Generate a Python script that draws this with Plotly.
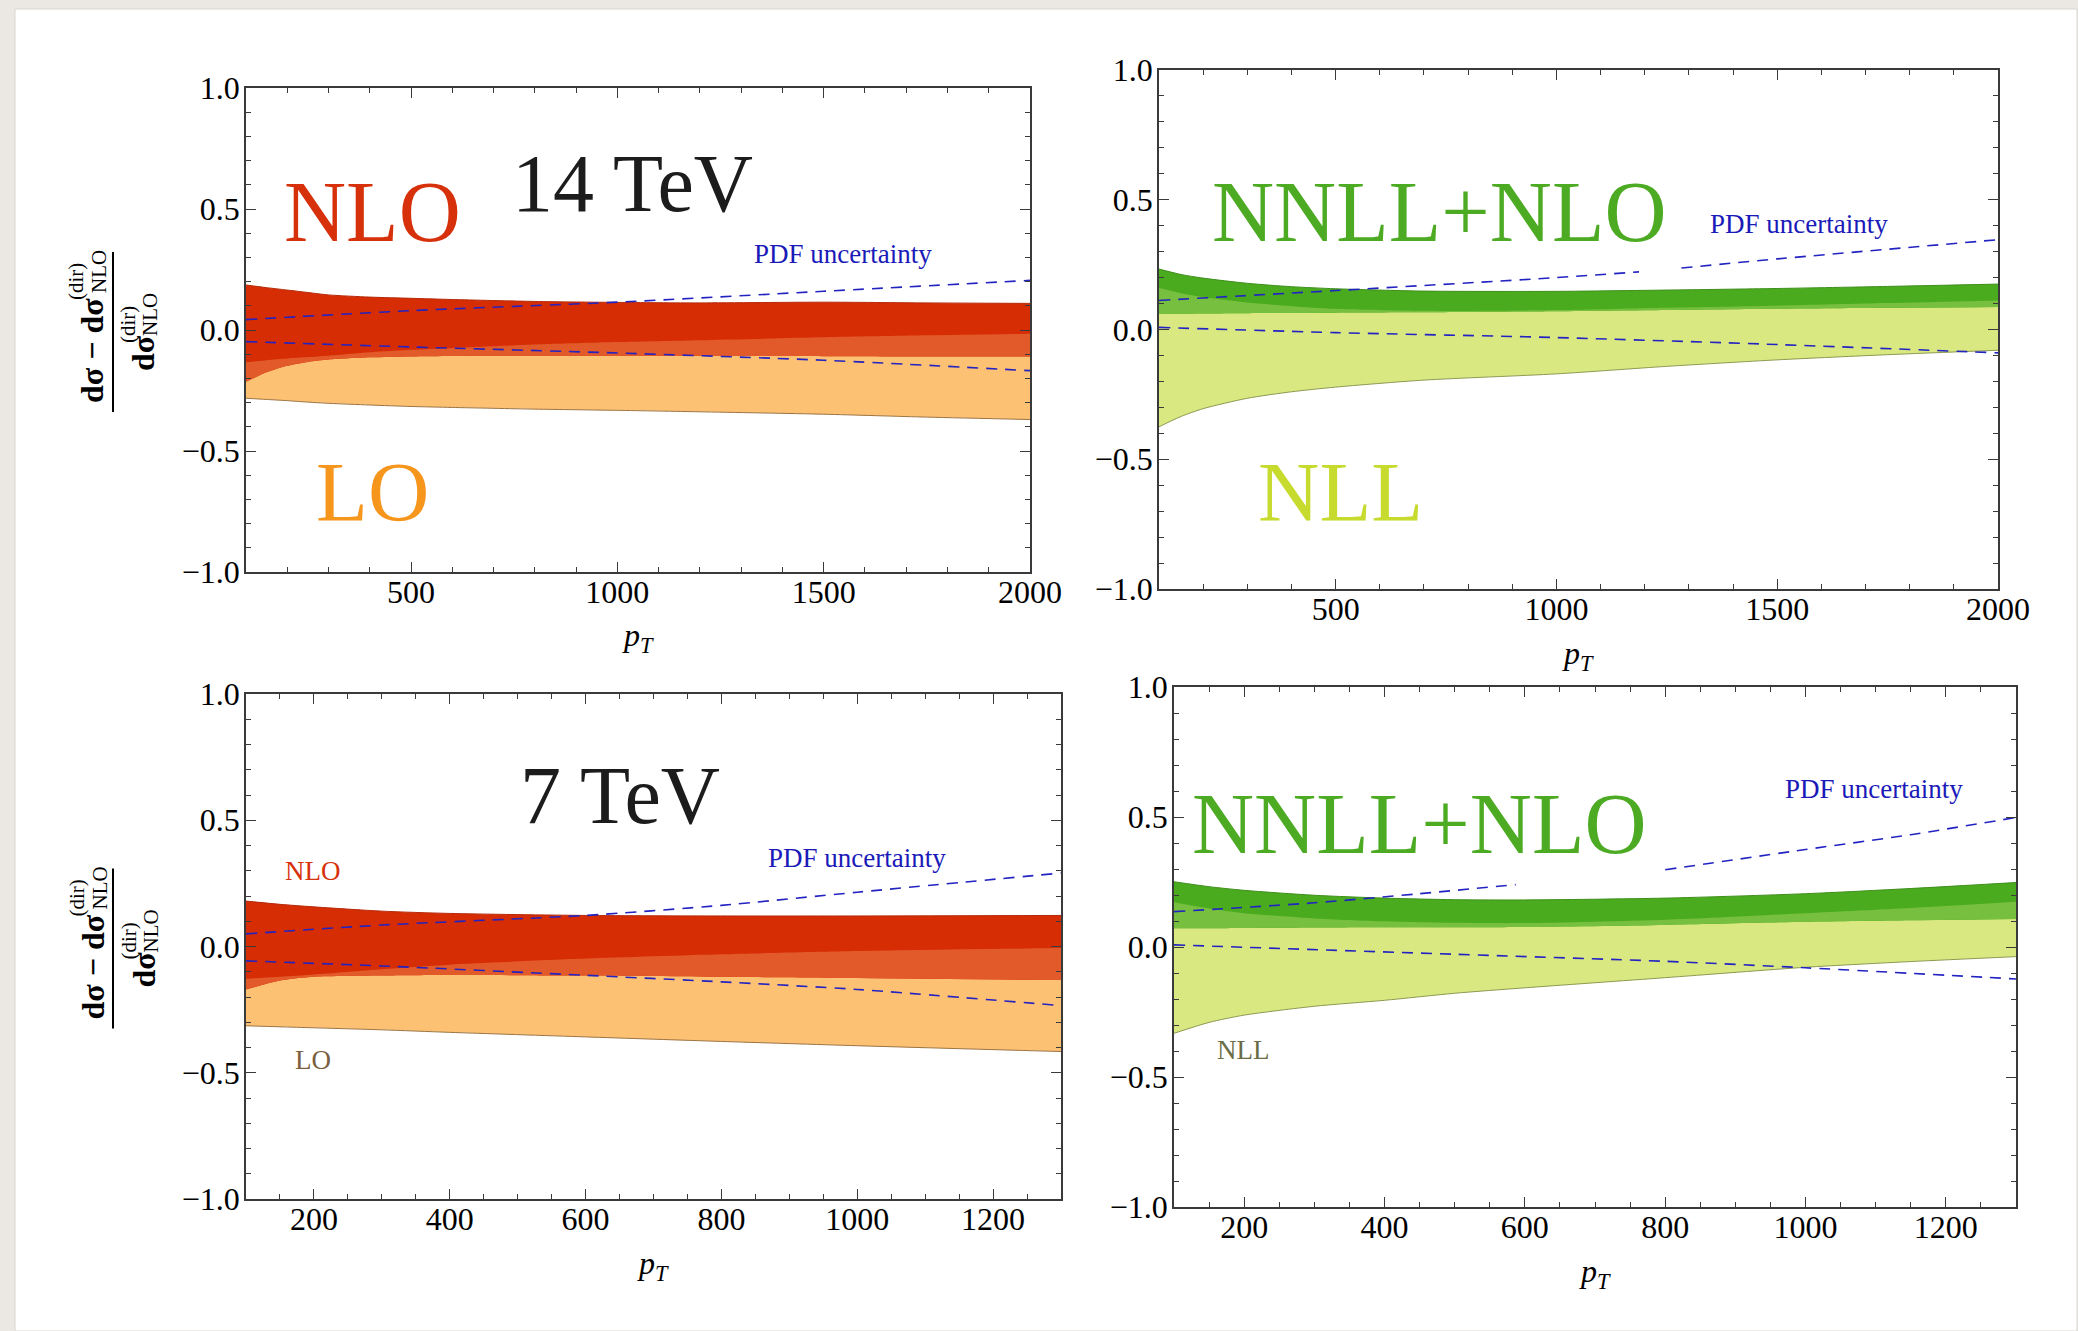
import numpy as np
import plotly.graph_objects as go

W, H = 2078, 1331
SERIF = "Liberation Serif"

# ---------------- 14 TeV : fixed-order scale bands ----------------
pt14_fo = [100, 150, 200, 250, 300, 400, 500, 600, 800, 1000, 1200, 1500, 1750, 2000]
nlo14_hi = [0.186, 0.175, 0.165, 0.155, 0.145, 0.136, 0.131, 0.126, 0.118, 0.114, 0.112, 0.115, 0.112, 0.110]
nlo14_lo = [-0.214, -0.175, -0.148, -0.132, -0.122, -0.113, -0.109, -0.107, -0.106, -0.106, -0.107, -0.108, -0.109, -0.110]
lo14_hi = [-0.133, -0.125, -0.118, -0.112, -0.106, -0.092, -0.082, -0.074, -0.060, -0.050, -0.042, -0.030, -0.022, -0.016]
lo14_lo = [-0.282, -0.287, -0.292, -0.298, -0.303, -0.310, -0.316, -0.320, -0.327, -0.332, -0.338, -0.348, -0.360, -0.370]

pt14_pdf_fo = [100, 500, 1000, 1500, 2000]
pdf14_fo_hi = [0.043, 0.080, 0.115, 0.160, 0.205]
pdf14_fo_lo = [-0.048, -0.070, -0.095, -0.125, -0.168]

# ---------------- 14 TeV : resummed scale bands ----------------
pt14_rs = [100, 150, 200, 300, 400, 500, 700, 1000, 1250, 1500, 1750, 2000]
nnll14_hi = [0.233, 0.212, 0.198, 0.178, 0.165, 0.157, 0.148, 0.147, 0.152, 0.158, 0.166, 0.175]
nnll14_lo = [0.060, 0.061, 0.062, 0.063, 0.064, 0.065, 0.066, 0.070, 0.075, 0.080, 0.084, 0.087]
nll14_hi = [0.160, 0.140, 0.125, 0.104, 0.090, 0.080, 0.072, 0.075, 0.084, 0.092, 0.102, 0.112]
nll14_lo = [-0.375, -0.335, -0.305, -0.265, -0.240, -0.222, -0.195, -0.171, -0.142, -0.117, -0.097, -0.080]

pt14_pdf_rs_hi = [100, 500, 1000, 1187, None, 1283, 1500, 2000]
pdf14_rs_hi = [0.112, 0.150, 0.200, 0.222, None, 0.237, 0.272, 0.346]
pt14_pdf_rs_lo = [100, 500, 1000, 1500, 2000]
pdf14_rs_lo = [0.008, -0.012, -0.031, -0.058, -0.090]

# ---------------- 7 TeV : fixed-order scale bands ----------------
pt7_fo = [100, 150, 200, 300, 400, 600, 800, 1000, 1300]
nlo7_hi = [0.180, 0.167, 0.157, 0.140, 0.131, 0.123, 0.121, 0.121, 0.123]
nlo7_lo = [-0.170, -0.135, -0.120, -0.115, -0.113, -0.115, -0.120, -0.125, -0.133]
lo7_hi = [-0.128, -0.120, -0.111, -0.090, -0.072, -0.048, -0.031, -0.018, -0.006]
lo7_lo = [-0.314, -0.318, -0.322, -0.330, -0.340, -0.358, -0.376, -0.393, -0.416]

pt7_pdf_fo = [100, 300, 600, 800, 1000, 1300]
pdf7_fo_hi = [0.050, 0.085, 0.123, 0.163, 0.215, 0.291]
pdf7_fo_lo = [-0.057, -0.077, -0.114, -0.140, -0.170, -0.234]

# ---------------- 7 TeV : resummed scale bands ----------------
pt7_rs = [100, 150, 200, 300, 400, 500, 600, 800, 1000, 1150, 1300]
nnll7_hi = [0.251, 0.232, 0.218, 0.199, 0.188, 0.182, 0.181, 0.188, 0.205, 0.225, 0.248]
nnll7_lo = [0.072, 0.072, 0.073, 0.075, 0.076, 0.076, 0.077, 0.085, 0.097, 0.103, 0.108]
nll7_hi = [0.172, 0.148, 0.130, 0.110, 0.099, 0.093, 0.092, 0.105, 0.130, 0.150, 0.174]
nll7_lo = [-0.332, -0.290, -0.262, -0.228, -0.205, -0.178, -0.157, -0.118, -0.078, -0.056, -0.037]

pt7_pdf_rs_hi = [100, 300, 450, 587, None, 800, 1000, 1150, 1300]
pdf7_rs_hi = [0.136, 0.170, 0.205, 0.240, None, 0.297, 0.375, 0.432, 0.498]
pt7_pdf_rs_lo = [100, 500, 800, 1000, 1300]
pdf7_rs_lo = [0.008, -0.028, -0.055, -0.080, -0.123]

# ---------------- colours ----------------
NLO_ONLY = "#d62d04"
FO_OVERLAP = "#e2592a"
LO_ONLY = "#fdc173"
NNLL_ONLY = "#4aab1f"
RS_OVERLAP = "#77bf3e"
NLL_ONLY = "#dae882"
PDF_BLUE = "#2323c2"

# panel frames in pixels: (left, right, top, bottom)
boxes = {
    1: (246, 1030, 88, 572),
    2: (1159, 1998, 70, 589),
    3: (246, 1061, 694, 1199),
    4: (1174, 2016, 687, 1207),
}


def px(x):
    return x / W


def py(y):
    return 1 - y / H


fig = go.Figure()


def line_trace(x, y, xa, ya, color, width, dash=None):
    fig.add_trace(go.Scatter(
        x=x, y=y, mode="lines", xaxis=xa, yaxis=ya,
        line=dict(color=color, width=width, dash=dash, shape="spline", smoothing=0.7),
        connectgaps=False, hoverinfo="skip", showlegend=False))


def band(x, lo, hi, color, xa, ya):
    fig.add_trace(go.Scatter(
        x=x, y=lo, mode="lines", xaxis=xa, yaxis=ya,
        line=dict(width=0, color=color, shape="spline", smoothing=0.7),
        hoverinfo="skip", showlegend=False))
    fig.add_trace(go.Scatter(
        x=x, y=hi, mode="lines", xaxis=xa, yaxis=ya, fill="tonexty", fillcolor=color,
        line=dict(width=0, color=color, shape="spline", smoothing=0.7),
        hoverinfo="skip", showlegend=False))


def two_bands(x, a_lo, a_hi, b_lo, b_hi, col_a, col_b, col_both, xa, ya):
    a_lo, a_hi, b_lo, b_hi = map(np.asarray, (a_lo, a_hi, b_lo, b_hi))
    band(x, b_lo, b_hi, col_b, xa, ya)
    band(x, a_lo, a_hi, col_a, xa, ya)
    both_lo = np.maximum(a_lo, b_lo)
    both_hi = np.maximum(np.minimum(a_hi, b_hi), both_lo)
    band(x, both_lo, both_hi, col_both, xa, ya)


DASH = "11px,8px"

# 14 TeV fixed order
two_bands(pt14_fo, nlo14_lo, nlo14_hi, lo14_lo, lo14_hi, NLO_ONLY, LO_ONLY, FO_OVERLAP, "x", "y")
line_trace(pt14_fo, nlo14_hi, "x", "y", "#b52a0a", 1)
line_trace(pt14_fo, lo14_lo, "x", "y", "#9c7444", 1)
line_trace(pt14_pdf_fo, pdf14_fo_hi, "x", "y", PDF_BLUE, 1.6, DASH)
line_trace(pt14_pdf_fo, pdf14_fo_lo, "x", "y", PDF_BLUE, 1.6, DASH)

# 14 TeV resummed
two_bands(pt14_rs, nnll14_lo, nnll14_hi, nll14_lo, nll14_hi, NNLL_ONLY, NLL_ONLY, RS_OVERLAP, "x2", "y2")
line_trace(pt14_rs, nnll14_hi, "x2", "y2", "#3f8f1c", 1)
line_trace(pt14_rs, nll14_lo, "x2", "y2", "#8c9a50", 1)
line_trace(pt14_pdf_rs_hi, pdf14_rs_hi, "x2", "y2", PDF_BLUE, 1.6, DASH)
line_trace(pt14_pdf_rs_lo, pdf14_rs_lo, "x2", "y2", PDF_BLUE, 1.6, DASH)

# 7 TeV fixed order
two_bands(pt7_fo, nlo7_lo, nlo7_hi, lo7_lo, lo7_hi, NLO_ONLY, LO_ONLY, FO_OVERLAP, "x3", "y3")
line_trace(pt7_fo, nlo7_hi, "x3", "y3", "#b52a0a", 1)
line_trace(pt7_fo, lo7_lo, "x3", "y3", "#9c7444", 1)
line_trace(pt7_pdf_fo, pdf7_fo_hi, "x3", "y3", PDF_BLUE, 1.6, DASH)
line_trace(pt7_pdf_fo, pdf7_fo_lo, "x3", "y3", PDF_BLUE, 1.6, DASH)

# 7 TeV resummed
two_bands(pt7_rs, nnll7_lo, nnll7_hi, nll7_lo, nll7_hi, NNLL_ONLY, NLL_ONLY, RS_OVERLAP, "x4", "y4")
line_trace(pt7_rs, nnll7_hi, "x4", "y4", "#3f8f1c", 1)
line_trace(pt7_rs, nll7_lo, "x4", "y4", "#8c9a50", 1)
line_trace(pt7_pdf_rs_hi, pdf7_rs_hi, "x4", "y4", PDF_BLUE, 1.6, DASH)
line_trace(pt7_pdf_rs_lo, pdf7_rs_lo, "x4", "y4", PDF_BLUE, 1.6, DASH)

FRAME = "#3a3a3a"
tickfont = dict(family=SERIF, size=32, color="black")


def xaxis_cfg(box, xmax, major, minor, anchor):
    l, r, t, b = box
    return dict(domain=[px(l), px(r)], range=[100, xmax], anchor=anchor, automargin=False,
                showgrid=False, zeroline=False, showline=True, mirror="allticks",
                linecolor=FRAME, linewidth=1.5, ticks="inside", ticklen=10,
                tickwidth=1.3, tickcolor=FRAME, tick0=0, dtick=major,
                minor=dict(ticks="inside", ticklen=5, tickwidth=1, tickcolor=FRAME,
                           tick0=0, dtick=minor, showgrid=False),
                tickfont=tickfont, ticklabelstandoff=-9)


def yaxis_cfg(box, anchor):
    l, r, t, b = box
    return dict(domain=[py(b), py(t)], range=[-1, 1], anchor=anchor, automargin=False,
                showgrid=False, zeroline=False, showline=True, mirror="allticks",
                linecolor=FRAME, linewidth=1.5, ticks="inside", ticklen=10,
                tickwidth=1.3, tickcolor=FRAME, tick0=0, dtick=0.5, tickformat=".1f",
                minor=dict(ticks="inside", ticklen=5, tickwidth=1, tickcolor=FRAME,
                           tick0=0, dtick=0.1, showgrid=False),
                tickfont=tickfont, ticklabelstandoff=-2)


annotations = []


def text(x, y, s, size, color="black", angle=0, xanchor="center", yanchor="middle"):
    annotations.append(dict(
        x=px(x), y=py(y), xref="paper", yref="paper", text=s, showarrow=False,
        textangle=angle, xanchor=xanchor, yanchor=yanchor,
        font=dict(family=SERIF, size=size, color=color)))


# axis titles
for cx, cy in [(638, 637), (1578, 655), (653, 1265), (1595, 1273)]:
    text(cx, cy, "<i>p</i><sub><i>T</i></sub>", 32)

# panel labels
text(372, 212, "NLO", 86, "#d7310c")
text(632, 184, "14 TeV", 82, "#1c1c1c")
text(843, 254, "PDF uncertainty", 27, "#1a1ab8")
text(372, 492, "LO", 85, "#f7961d")

text(1439, 212, "NNLL+NLO", 86, "#4cab22")
text(1799, 224, "PDF uncertainty", 27, "#1a1ab8")
text(1340, 492, "NLL", 85, "#c6db2d")

text(620, 795, "7 TeV", 82, "#1c1c1c")
text(313, 871, "NLO", 27, "#d7310c")
text(857, 858, "PDF uncertainty", 27, "#1a1ab8")
text(313, 1060, "LO", 27, "#7b5f3f")

text(1419, 824, "NNLL+NLO", 86, "#4cab22")
text(1874, 789, "PDF uncertainty", 27, "#1a1ab8")
text(1243, 1050, "NLL", 27, "#6b6d45")

shapes = [
    # white sheet on the grey page
    dict(type="rect", xref="paper", yref="paper", x0=px(15), x1=px(2077), y0=0, y1=py(9),
         fillcolor="white", line=dict(color="#d8d6d2", width=1), layer="below"),
]

# vertical y-axis fraction labels, left panels
for dy in (0, 616.5):
    text(92, 351 + dy, "<b>dσ − dσ</b>", 32, angle=-90)
    text(76, 282 + dy, "(dir)", 21, angle=-90)
    text(99, 272 + dy, "NLO", 21, angle=-90)
    text(143, 353 + dy, "<b>dσ</b>", 32, angle=-90)
    text(128, 325 + dy, "(dir)", 21, angle=-90)
    text(150, 315 + dy, "NLO", 21, angle=-90)
    shapes.append(dict(type="line", xref="paper", yref="paper",
                       x0=px(113), x1=px(113), y0=py(252 + dy), y1=py(412 + dy),
                       line=dict(color="black", width=2)))

fig.update_layout(
    width=W, height=H, autosize=False,
    margin=dict(l=0, r=0, t=0, b=0, pad=0, autoexpand=False),
    paper_bgcolor="#ebe8e3", plot_bgcolor="white",
    showlegend=False,
    xaxis=xaxis_cfg(boxes[1], 2000, 500, 100, "y"),
    yaxis=yaxis_cfg(boxes[1], "x"),
    xaxis2=xaxis_cfg(boxes[2], 2000, 500, 100, "y2"),
    yaxis2=yaxis_cfg(boxes[2], "x2"),
    xaxis3=xaxis_cfg(boxes[3], 1300, 200, 50, "y3"),
    yaxis3=yaxis_cfg(boxes[3], "x3"),
    xaxis4=xaxis_cfg(boxes[4], 1300, 200, 50, "y4"),
    yaxis4=yaxis_cfg(boxes[4], "x4"),
    annotations=annotations,
    shapes=shapes,
)

fig.write_html("out.html")
